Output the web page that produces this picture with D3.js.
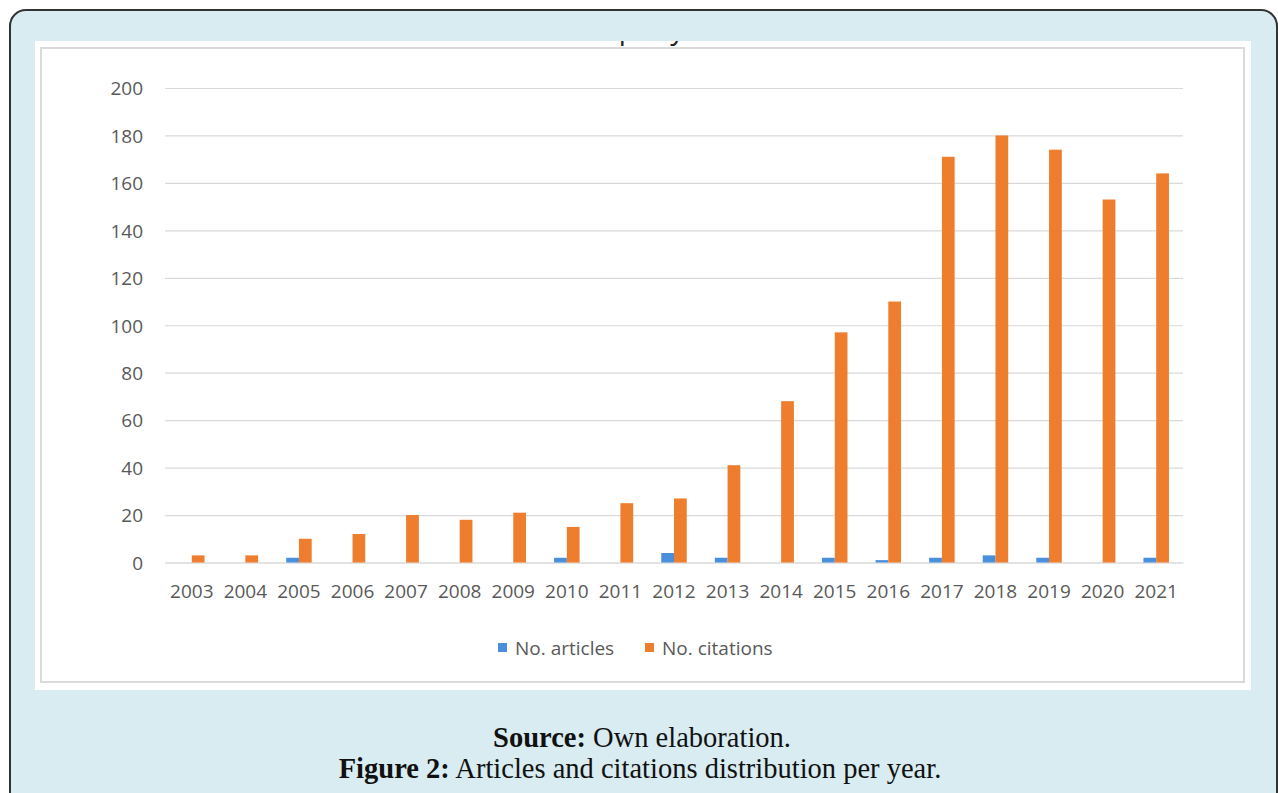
<!DOCTYPE html>
<html>
<head>
<meta charset="utf-8">
<script src="https://cdn.jsdelivr.net/npm/d3@7"></script>
<style>
  html, body { margin: 0; padding: 0; background: #fff; }
  svg { display: block; }
  .tick text { font-family: "Open Sans", sans-serif; font-size: 19px; fill: #595959; }
</style>
</head>
<body>
<div id="chart"></div>
<script>
// chart data
var years = ['2003', '2004', '2005', '2006', '2007', '2008', '2009', '2010', '2011', '2012',
             '2013', '2014', '2015', '2016', '2017', '2018', '2019', '2020', '2021'];
var articles = [0, 0, 2, 0, 0, 0, 0, 2, 0, 4, 2, 0, 2, 1, 2, 3, 2, 0, 2];
var citations = [3, 3, 10, 12, 20, 18, 21, 15, 25, 27, 41, 68, 97, 110, 171, 180, 174, 153, 164];
var seriesNames = ['No. articles', 'No. citations'];
var seriesColors = ['#4a8fdc', '#ee7d2e'];
var yTicks = [0, 20, 40, 60, 80, 100, 120, 140, 160, 180, 200];

var W = 1278, H = 793;
var svg = d3.select('#chart').append('svg').attr('width', W).attr('height', H);

// light blue figure box with dark rounded border (runs off the bottom)
svg.append('rect')
    .attr('x', 10).attr('y', 10).attr('width', 1267).attr('height', 820)
    .attr('rx', 16).attr('ry', 16)
    .attr('fill', '#d8ecf1').attr('stroke', '#333').attr('stroke-width', 2);

// white picture area
svg.append('rect').attr('x', 35).attr('y', 41).attr('width', 1216).attr('height', 649).attr('fill', '#fff');
svg.append('clipPath').attr('id', 'picClip')
  .append('rect').attr('x', 35).attr('y', 41).attr('width', 1216).attr('height', 649);

// chart title, cut off at the top of the picture
svg.append('text')
    .attr('clip-path', 'url(#picClip)')
    .attr('x', 727).attr('y', 39)
    .attr('text-anchor', 'end')
    .style('font-family', '"Open Sans", sans-serif').style('font-size', '28px')
    .attr('fill', '#222')
    .text('Articles and citations per year');

// inner chart border
svg.append('rect').attr('x', 41).attr('y', 48).attr('width', 1203).attr('height', 634)
    .attr('fill', 'none').attr('stroke', '#dadada').attr('stroke-width', 2);

var margin = {left: 165, right: 1183, top: 88, bottom: 562.5};

var x = d3.scaleBand().domain(years).range([margin.left, margin.right]);
var xSub = d3.scaleBand().domain(seriesNames).range([0, 25.5]);
var y = d3.scaleLinear().domain([0, 200]).range([margin.bottom, margin.top]);

var yAxis = d3.axisLeft(y).tickValues(yTicks)
    .tickSizeInner(-(margin.right - margin.left)).tickSizeOuter(0).tickPadding(22);
var gy = svg.append('g').attr('transform', 'translate(' + margin.left + ',0)').call(yAxis);
gy.select('.domain').remove();
gy.selectAll('.tick line').attr('stroke', '#d9d9d9').attr('stroke-width', 1.2);
gy.selectAll('.tick text').attr('dy', '0.36em');

var xAxis = d3.axisBottom(x).tickSize(0).tickPadding(22.5);
var gx = svg.append('g').attr('transform', 'translate(0,' + margin.bottom + ')').call(xAxis);
gx.select('.domain').attr('stroke', '#d9d9d9').attr('stroke-width', 1.2);

// bars
var series = [articles, citations];
var groupOffset = (x.bandwidth() - 25.5) / 2;
series.forEach(function(vals, si) {
    svg.append('g').selectAll('rect')
        .data(vals)
        .enter().append('rect')
        .attr('x', function(d, i) { return x(years[i]) + groupOffset + xSub(seriesNames[si]); })
        .attr('y', function(d) { return y(d); })
        .attr('width', xSub.bandwidth())
        .attr('height', function(d) { return y(0) - y(d); })
        .attr('fill', seriesColors[si]);
});

// legend
var legendItems = [{name: seriesNames[0], color: seriesColors[0], x: 498},
                   {name: seriesNames[1], color: seriesColors[1], x: 645}];
var lg = svg.append('g').selectAll('g').data(legendItems).enter().append('g')
    .attr('transform', function(d) { return 'translate(' + d.x + ',648)'; });
lg.append('rect').attr('x', 0).attr('y', -5).attr('width', 9).attr('height', 9)
    .attr('fill', function(d) { return d.color; });
lg.append('text').attr('x', 17).attr('y', 0).attr('dy', '0.36em')
    .style('font-family', '"Open Sans", sans-serif').style('font-size', '19px')
    .attr('fill', '#595959')
    .text(function(d) { return d.name; });

// caption
var cap = svg.append('g').style('font-family', '"Liberation Serif", serif').style('font-size', '28.5px').attr('fill', '#111');
var l1 = cap.append('text').attr('x', 642).attr('y', 747).attr('text-anchor', 'middle');
l1.append('tspan').attr('font-weight', 'bold').text('Source:');
l1.append('tspan').text(' Own elaboration.');
var l2 = cap.append('text').attr('x', 640).attr('y', 778).attr('text-anchor', 'middle');
l2.append('tspan').attr('font-weight', 'bold').text('Figure 2:');
l2.append('tspan').text(' Articles and citations distribution per year.');
</script>
</body>
</html>
